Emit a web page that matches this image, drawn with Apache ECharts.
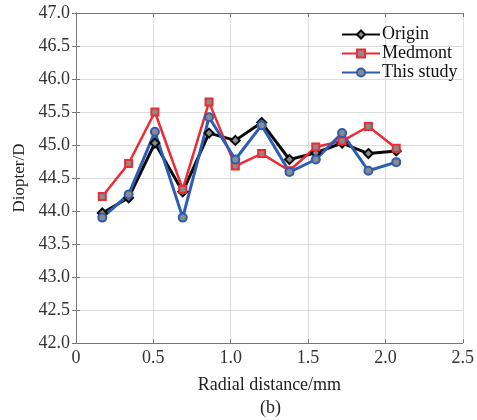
<!DOCTYPE html>
<html>
<head>
<meta charset="utf-8">
<script src="https://cdn.jsdelivr.net/npm/echarts@6/dist/echarts.min.js"></script>
<style>
  html, body { margin: 0; padding: 0; background: #fff; }
  #chart { width: 477px; height: 420px; }
</style>
</head>
<body>
<div id="chart"></div>
<script>
// Radial positions (mm)
const radial = [0.17, 0.34, 0.51, 0.69, 0.86, 1.03, 1.20, 1.38, 1.55, 1.72, 1.89, 2.07];
// Diopter values (D) for each method
const origin    = [43.97, 44.20, 45.03, 44.29, 45.18, 45.07, 45.34, 44.78, 44.88, 45.03, 44.87, 44.91];
const medmont   = [44.22, 44.72, 45.50, 44.33, 45.65, 44.68, 44.87, 44.61, 44.97, 45.06, 45.28, 44.95];
const thisStudy = [43.90, 44.25, 45.20, 43.90, 45.42, 44.78, 45.30, 44.59, 44.78, 45.18, 44.61, 44.74];
const seriesNames = ['Origin', 'Medmont', 'This study'];

const FONT = '"Liberation Serif", "Times New Roman", serif';
const pairs = (ys) => radial.map((x, i) => [x, ys[i]]);

const chart = echarts.init(document.getElementById('chart'), null, { renderer: 'canvas' });

function lineSeries(name, ys, color, symbol, size, width) {
  return {
    name: name,
    type: 'line',
    data: pairs(ys),
    symbol: symbol,
    symbolSize: size,
    showAllSymbol: true,
    lineStyle: { color: color, width: width },
    itemStyle: { color: '#8a8a8a', borderColor: color, borderWidth: 2 },
    emphasis: { disabled: true },
    animation: false,
    z: 3
  };
}

const axisLine = { show: true, lineStyle: { color: '#777', width: 1 } };
const axisTick = { show: true, inside: true, length: 4, lineStyle: { color: '#777' } };
const splitLine = { show: true, lineStyle: { color: '#dcdcdc', width: 1 } };

chart.setOption({
  backgroundColor: '#fff',
  animation: false,
  grid: { left: 76, top: 13, width: 387, height: 330, show: false },
  legend: {
    data: seriesNames,
    orient: 'vertical',
    left: 341,
    top: 25,
    itemWidth: 38,
    itemHeight: 10,
    itemGap: 0,
    padding: 0,
    textStyle: { fontFamily: FONT, fontSize: 18, color: '#111', lineHeight: 19, padding: [0, 0, 0, -3] }
  },
  xAxis: [{
    type: 'value',
    min: 0, max: 2.5, interval: 0.5,
    name: 'Radial distance/mm',
    nameLocation: 'middle',
    nameGap: 33,
    nameTextStyle: { fontFamily: FONT, fontSize: 18, color: '#222' },
    axisLine: axisLine,
    axisTick: axisTick,
    splitLine: splitLine,
    axisLabel: {
      fontFamily: FONT, fontSize: 18, color: '#333', margin: 6,
      formatter: (v) => v === 0 ? '0' : v.toFixed(1)
    }
  }, {
    type: 'value',
    position: 'top',
    min: 0, max: 2.5, interval: 0.5,
    axisLine: axisLine,
    axisTick: axisTick,
    splitLine: { show: false },
    axisLabel: { show: false }
  }],
  yAxis: [{
    type: 'value',
    min: 42, max: 47, interval: 0.5,
    name: 'Diopter/D',
    nameLocation: 'middle',
    nameGap: 47,
    nameRotate: 90,
    nameTextStyle: { fontFamily: FONT, fontSize: 17, color: '#222' },
    axisLine: axisLine,
    axisTick: axisTick,
    splitLine: splitLine,
    axisLabel: {
      fontFamily: FONT, fontSize: 18, color: '#333', margin: 6,
      formatter: (v) => v.toFixed(1)
    }
  }, {
    type: 'value',
    position: 'right',
    min: 42, max: 47, interval: 0.5,
    axisLine: axisLine,
    axisTick: axisTick,
    splitLine: { show: false },
    axisLabel: { show: false }
  }],
  graphic: [{
    type: 'text',
    left: 260,
    top: 399,
    style: { text: '(b)', font: '18px ' + FONT, fill: '#222' }
  }],
  series: [
    lineSeries('Origin', origin, '#0a0a0a', 'diamond', 9, 3),
    lineSeries('Medmont', medmont, '#ec2b35', 'rect', 7, 2.5),
    lineSeries('This study', thisStudy, '#2d5cb3', 'circle', 8, 3)
  ]
});
</script>
</body>
</html>
